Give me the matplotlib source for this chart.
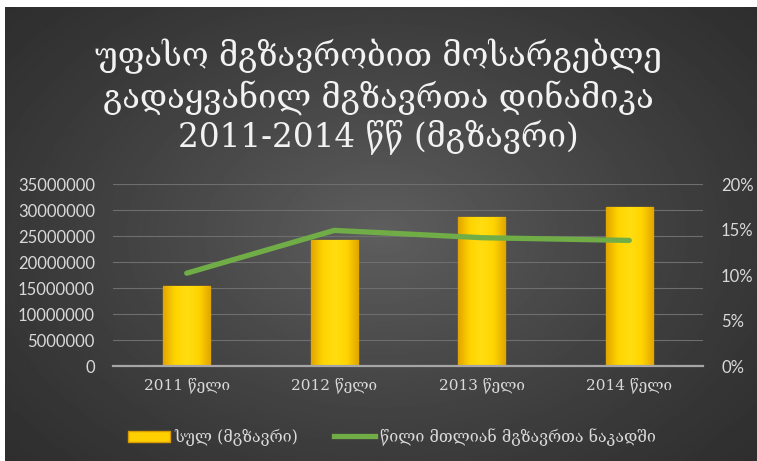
import numpy as np
import matplotlib.pyplot as plt
from matplotlib.patches import Patch
from matplotlib.lines import Line2D
from matplotlib.ticker import FuncFormatter
from matplotlib.colors import LinearSegmentedColormap

years = ["2011 წელი", "2012 წელი", "2013 წელი", "2014 წელი"]
passengers = [15300000, 24200000, 28700000, 30600000]
share = [0.102, 0.149, 0.141, 0.138]

title = "უფასო მგზავრობით მოსარგებლე\nგადაყვანილ მგზავრთა დინამიკა\n2011-2014 წწ (მგზავრი)"
bar_label = "სულ (მგზავრი)"
line_label = "წილი მთლიან მგზავრთა ნაკადში"

geo_font = ["DejaVu Serif", "DejaVu Sans"]
num_font = ["Lato", "DejaVu Sans"]
text_col = "#d9d9d9"

W, H = 757, 461
fig = plt.figure(figsize=(W / 100, H / 100), dpi=100)
fig.patch.set_facecolor("white")

# dark panel with a soft radial light in the middle
bg = fig.add_axes([5 / W, 0, 1 - 5 / W, 1 - 7 / H])
bg.set_axis_off()
yy, xx = np.mgrid[0:1:300j, 0:1:500j]
r = np.sqrt(((xx - 0.5) / 0.75) ** 2 + ((yy - 0.5) / 0.85) ** 2)
shade = np.clip(1 - r, 0, 1) ** 1.3
bg.imshow(0.17 + 0.20 * shade, cmap="gray", vmin=0, vmax=1,
          aspect="auto", extent=[0, 1, 0, 1], origin="lower")

fig.text(0.5, 1 - 97 / H, title, ha="center", va="center",
         fontsize=23.5, color="#f2f2f2", family=geo_font, linespacing=1.2)

ax = fig.add_axes([113 / W, 1 - 366 / H, 590 / W, 182 / H])
ax.patch.set_alpha(0)
x = np.arange(len(years))
bars = ax.bar(x, passengers, width=0.32, color="#FFD200",
              edgecolor="#D99C00", linewidth=1.0, zorder=3)

# golden shading across each bar
grad = np.linspace(0, 1, 64)
grad = 1 - np.abs(grad - 0.5) * 2
gold = LinearSegmentedColormap.from_list("gold", ["#E2A600", "#FFD400", "#FFDD10"])
for b in bars:
    x0, y0 = b.get_x(), b.get_y()
    im = ax.imshow(grad[np.newaxis, :], cmap=gold, aspect="auto",
                   extent=[x0, x0 + b.get_width(), y0, y0 + b.get_height()],
                   zorder=3.5)
    im.set_clip_path(b)

ax.set_xlim(-0.5, 3.5)
ax.set_ylim(0, 35000000)
ax.set_yticks(np.arange(0, 35000001, 5000000))
ax.yaxis.set_major_formatter(FuncFormatter(lambda v, p: f"{int(v)}"))
ax.grid(axis="y", color="#6e6e6e", linewidth=0.8, zorder=0)
ax.set_xticks(x)
ax.set_xticklabels(years, family=geo_font, fontsize=11, color=text_col)
for lab in ax.get_yticklabels():
    lab.set_family(num_font)
ax.tick_params(axis="y", length=0, pad=13, labelsize=12, labelcolor=text_col)
ax.tick_params(axis="x", length=0, pad=8)
for s in ["top", "right", "left"]:
    ax.spines[s].set_visible(False)
ax.spines["bottom"].set_color("#a6a6a6")
ax.spines["bottom"].set_linewidth(1.6)
ax.spines["bottom"].set_zorder(4)

ax2 = ax.twinx()
ax2.plot(x, share, color="#70AD47", linewidth=3.8, solid_capstyle="round",
         solid_joinstyle="round", zorder=5)
ax2.set_ylim(0, 0.20)
ax2.set_yticks(np.arange(0, 0.201, 0.05))
ax2.yaxis.set_major_formatter(FuncFormatter(lambda v, p: f"{v * 100:.0f}%"))
for lab in ax2.get_yticklabels():
    lab.set_family(num_font)
ax2.tick_params(axis="y", length=0, pad=13, labelsize=12, labelcolor=text_col)
for s in ax2.spines.values():
    s.set_visible(False)

handles = [Patch(facecolor="#FFD000", edgecolor="#D99C00", label=bar_label),
           Line2D([], [], color="#70AD47", linewidth=3.8, label=line_label)]
leg = fig.legend(handles=handles, loc="center", ncol=2,
                 bbox_to_anchor=(392 / W, 1 - 437 / H), frameon=False,
                 prop={"family": geo_font, "size": 11.5},
                 handlelength=2.6, handletextpad=0.3, columnspacing=2.2)
for t in leg.get_texts():
    t.set_color(text_col)

fig.savefig("out.png", dpi=100)
